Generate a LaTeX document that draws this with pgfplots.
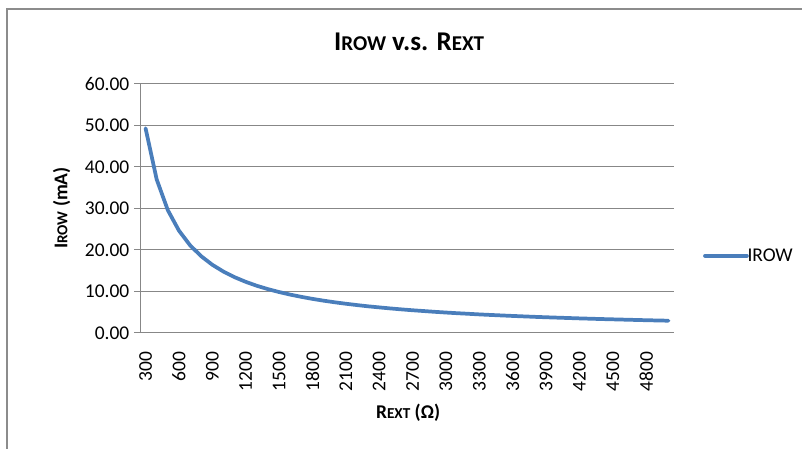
\documentclass[border=0pt]{standalone}
\usepackage{fontspec}
\setmainfont{Carlito}
\usepackage{pgfplots}
\pgfplotsset{compat=1.18}
\definecolor{linecol}{HTML}{4A7EBB}
\definecolor{gridcol}{HTML}{878787}
\definecolor{framecol}{HTML}{8C8C8C}
\newcommand{\bodyfont}{\fontsize{14.6}{17}\selectfont}
\newcommand{\smallcaps}{\fontsize{11.4}{13}\selectfont}
\newcommand{\titlefont}{\fontsize{20.3}{24}\selectfont}
\newcommand{\titlecaps}{\fontsize{15.8}{18}\selectfont}
\begin{document}
\begin{tikzpicture}
\useasboundingbox (0,0) rectangle (601.5pt,336.75pt);
\draw[framecol, line width=1.2pt] (5.25pt,0pt) -- (5.25pt,330pt) -- (601.5pt,330pt);
\begin{axis}[
    at={(105pt,87pt)}, anchor=south west,
    scale only axis, width=400.5pt, height=186.75pt,
    xmin=250, xmax=5050,
    ymin=0, ymax=60,
    xtick={300,600,...,4800},
    ytick={0,10,...,60},
    axis x line*=bottom, axis y line*=left,
    axis line style={gridcol, line width=0.75pt},
    ymajorgrids, grid style={gridcol, line width=0.75pt},
    tick align=outside,
    major tick length=4.5pt,
    xtick style={draw=none},
    ytick style={gridcol, line width=0.75pt},
    tick label style={font=\bodyfont},
    /pgf/number format/assume math mode=true,
    /pgf/number format/1000 sep={},
    yticklabel style={/pgf/number format/.cd, fixed, fixed zerofill, precision=2},
    xticklabel style={rotate=90, anchor=east},
    xticklabel shift=6pt,
    title={\textbf{I{\titlecaps ROW} v.s. R{\titlecaps EXT}}},
    title style={at={(0.504,1.138)}, anchor=center, font=\titlefont},
    xlabel={\textbf{R{\smallcaps EXT} (Ω)}},
    xlabel style={at={(0.502,-0.319)}, anchor=center, font=\bodyfont},
    ylabel={\textbf{I{\smallcaps ROW} (mA)}},
    ylabel style={at={(-0.147,0.502)}, anchor=center, font=\bodyfont},
    legend style={at={(1.054,0.31)}, anchor=west, draw=none, fill=none,
        inner sep=0pt, font=\bodyfont},
    legend image code/.code={\draw[#1] (0pt,0pt) -- (31.5pt,0pt);},
]
\addplot[linecol, line width=2.8pt, line cap=round, line join=round] table {
300 49.33
400 37.00
500 29.60
600 24.67
700 21.14
800 18.50
900 16.44
1000 14.80
1100 13.45
1200 12.33
1300 11.38
1400 10.57
1500 9.87
1600 9.25
1700 8.71
1800 8.22
1900 7.79
2000 7.40
2100 7.05
2200 6.73
2300 6.43
2400 6.17
2500 5.92
2600 5.69
2700 5.48
2800 5.29
2900 5.10
3000 4.93
3100 4.77
3200 4.63
3300 4.48
3400 4.35
3500 4.23
3600 4.11
3700 4.00
3800 3.89
3900 3.79
4000 3.70
4100 3.61
4200 3.52
4300 3.44
4400 3.36
4500 3.29
4600 3.22
4700 3.15
4800 3.08
4900 3.02
5000 2.96
};
\addlegendentry{\hspace{-3pt}IROW}
\end{axis}
\end{tikzpicture}
\end{document}
